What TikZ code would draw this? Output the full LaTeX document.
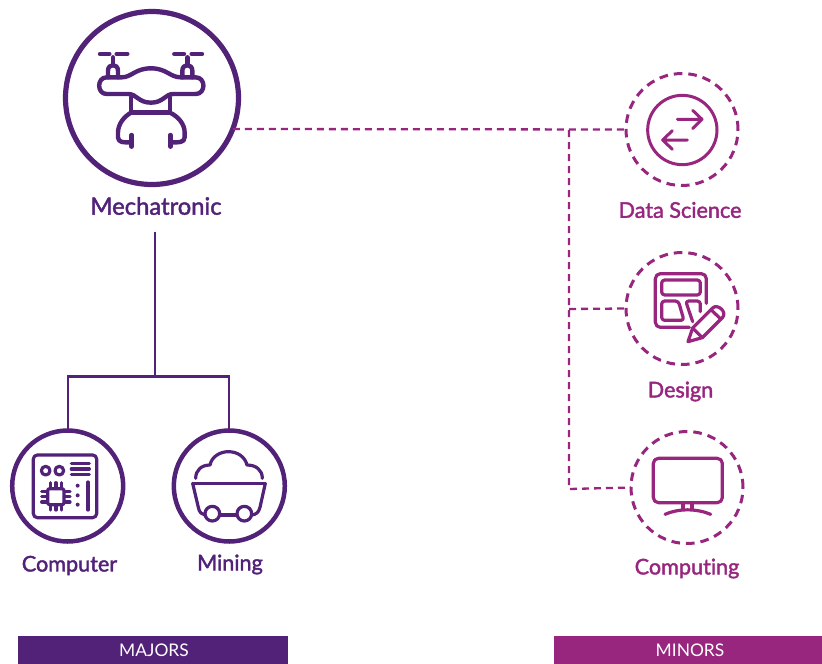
\documentclass[tikz,border=0pt]{standalone}
\usepackage{fontspec}
\setmainfont{Lato}[Ligatures=NoCommon]
\newfontfamily\medfont[FakeBold=1.8,Ligatures=NoCommon]{Lato}
\usetikzlibrary{calc}
\definecolor{maj}{HTML}{522178}
\definecolor{mnr}{HTML}{98267F}
\tikzset{
  x=1pt,y=-1pt,
  ring/.style={circle,draw=maj,line width=4.5pt,minimum size=#1,inner sep=0pt,outer sep=0pt},
  dashring/.style={circle,draw=mnr,line width=3pt,minimum size=112pt,inner sep=0pt,outer sep=0pt,dash pattern=on 8.6pt off 6pt},
  majlabel/.style={text=maj,font=\medfont\fontsize{21.6}{24}\selectfont,inner sep=0pt},
  minlabel/.style={text=mnr,font=\medfont\fontsize{21.6}{24}\selectfont,inner sep=0pt},
  solidlink/.style={draw=maj,line width=2.2pt},
  dashlink/.style={draw=mnr,line width=2.3pt,dash pattern=on 7pt off 5pt},
  banner/.style={inner sep=0pt,outer sep=0pt,text=white,font=\fontsize{17.4}{20}\selectfont,minimum height=28pt,text depth=0pt},
  icon/.style={line width=#1,line cap=round,line join=round,rounded corners=0pt},
  zoomed/.style={x=0.33333pt,y=-0.33333pt},
}
\begin{document}
\begin{tikzpicture}
\useasboundingbox (0,0) rectangle (822,664);
% circles
\node[ring=173pt,line width=5.2pt] (mech) at (152,98) {};
\node[ring=111pt] (comp) at (67.7,486) {};
\node[ring=111pt] (mine) at (229.3,486) {};
\node[dashring] (ds) at (682,129.5) {};
\node[dashring] (des) at (682,308.5) {};
\node[dashring] (cpt) at (687,487.5) {};
% labels
\node[majlabel,font=\medfont\fontsize{23.8}{26}\selectfont] (lmech) at (156,206) {Mechatronic};
\node[majlabel] (lcomp) at (69.5,565.5) {Computer};
\node[majlabel] (lmine) at (230,564.5) {Mining};
\node[minlabel] (lds) at (680,210) {Data Science};
\node[minlabel] (ldes) at (680.5,391.5) {Design};
\node[minlabel] (lcpt) at (687,568.5) {Computing};
% banners
\node[banner,fill=maj,minimum width=270pt] (bmaj) at (153,650) {\raisebox{-1pt}{\hspace{2pt}MAJORS}};
\node[banner,fill=mnr,minimum width=268pt] (bmin) at (688,650) {\raisebox{-1pt}{\hspace{4pt}MINORS}};
% solid connectors
\coordinate (jm) at (155,376.5);
\draw[solidlink] (155,231.5) -- (jm);
\draw[solidlink] (comp.north) -- (comp.north |- jm) -- (mine.north |- jm) -- (mine.north);
% dashed connectors
\coordinate (j1) at (569,130);
\coordinate (j2) at (569,309);
\coordinate (j3) at (569,489);
\draw[dashlink] (mech.-21.3) -- (ds.west);
\draw[dashlink] (j1) -- (j3) -- (cpt.west);
\draw[dashlink] (j2) -- (des.west);
% drone icon
\begin{scope}[shift={(50,0)},zoomed,draw=maj,icon=4.4pt]
\draw (150,162) -- (178,162) (200,162) -- (232,162) (373,162) -- (402,162) (425,162) -- (456,162);
\draw (189,172) -- (189,195) (412,172) -- (412,195);
\draw (174,232) -- (174,212) .. controls (174,190) and (204,190) .. (204,212) -- (204,232);
\draw (397,232) -- (397,212) .. controls (397,190) and (427,190) .. (427,212) -- (427,232);
\draw (170,232) -- (215,232) .. controls (245,232) and (255,205) .. (303,205) .. controls (350,205) and (360,232) .. (392,232) -- (437,232)
  .. controls (468,232) and (468,282) .. (437,282) -- (370,282) .. controls (345,282) and (340,308) .. (303,308) .. controls (265,308) and (260,282) .. (235,282) -- (170,282)
  .. controls (140,282) and (140,232) .. (170,232) -- cycle;
\draw (243,292) -- (243,338) -- (360,338) -- (360,292);
\draw (243,338) .. controls (222,350) and (204,372) .. (204,398) -- (204,412) .. controls (204,428) and (222,428) .. (245,427);
\draw (245,405) -- (245,440);
\draw (360,338) .. controls (385,350) and (404,372) .. (404,398) -- (404,412) .. controls (404,428) and (385,428) .. (361,427);
\draw (361,405) -- (361,440);
\end{scope}
% computer icon
\begin{scope}[shift={(0,420)},zoomed,draw=maj,icon=3.2pt]
\draw[rounded corners=4pt] (100,105) rectangle (290,293);
\draw (137,152) circle[radius=13] (178,152) circle[radius=13];
\draw (214,130) -- (268,130) (214,147) -- (268,147) (214,163) -- (268,163);
\draw[rounded corners=2pt] (143,206) rectangle (192,254);
\draw (152,188) -- (152,204) (168,188) -- (168,204) (184,188) -- (184,204);
\draw (152,256) -- (152,270) (168,256) -- (168,270) (184,256) -- (184,270);
\draw (125,214) -- (141,214) (125,230) -- (141,230) (125,246) -- (141,246);
\draw (194,214) -- (210,214) (194,230) -- (210,230) (194,246) -- (210,246);
\fill[maj] (233,197) circle[radius=6] (233,226) circle[radius=6] (233,254) circle[radius=6];
\draw (264,186) -- (264,270);
\end{scope}
% mining icon
\begin{scope}[shift={(0,420)},zoomed,draw=maj,icon=3.2pt]
\draw (578,190) -- (796,190);
\draw (578,190) -- (595,262) .. controls (598,278) and (605,283) .. (615,285);
\draw (796,190) -- (780,262) .. controls (776,278) and (768,283) .. (756,285);
\draw (660,285) -- (710,285);
\draw (637,281) circle[radius=22] (733,281) circle[radius=22];
\draw (587,175) .. controls (587,150) and (605,135) .. (630,135) .. controls (635,110) and (660,95) .. (685,95) .. controls (712,95) and (735,110) .. (741,135) .. controls (768,135) and (787,150) .. (787,175);
\end{scope}
% data science icon
\begin{scope}[shift={(610,60)},zoomed,draw=mnr,icon=3pt]
\draw (217,210) circle[radius=104];
\draw (202,178) -- (275,178) (248,151) -- (276,178) -- (248,206);
\draw (232,240) -- (159,240) (187,212) -- (158,240) -- (187,268);
\end{scope}
% design icon
\begin{scope}[shift={(610,240)},zoomed,draw=mnr,icon=3.2pt]
\draw[rounded corners=5pt] (289,190) -- (289,101) -- (136,101) -- (136,262) -- (238,262);
\draw[rounded corners=3pt] (155,120) rectangle (271,165);
\draw[rounded corners=3pt] (155,183) -- (205,183) -- (222,241) -- (155,241) -- cycle;
\draw[rounded corners=3pt] (248,245) -- (227,183) -- (271,183) -- (271,215);
\draw (234,305) -- (248,264) -- (308,204) .. controls (322,190) and (352,215) .. (338,232) -- (277,293) -- cycle;
\draw (248,264) -- (277,293);
\draw (303,209) -- (333,238);
\end{scope}
% computing icon
\begin{scope}[shift={(610,420)},zoomed,draw=mnr,icon=3.2pt]
\draw[rounded corners=5pt] (130,115) rectangle (337,248);
\draw (219,248) -- (219,268) (246,248) -- (246,268);
\draw (165,283) .. controls (205,265) and (260,265) .. (302,283);
\end{scope}
\end{tikzpicture}
\end{document}
